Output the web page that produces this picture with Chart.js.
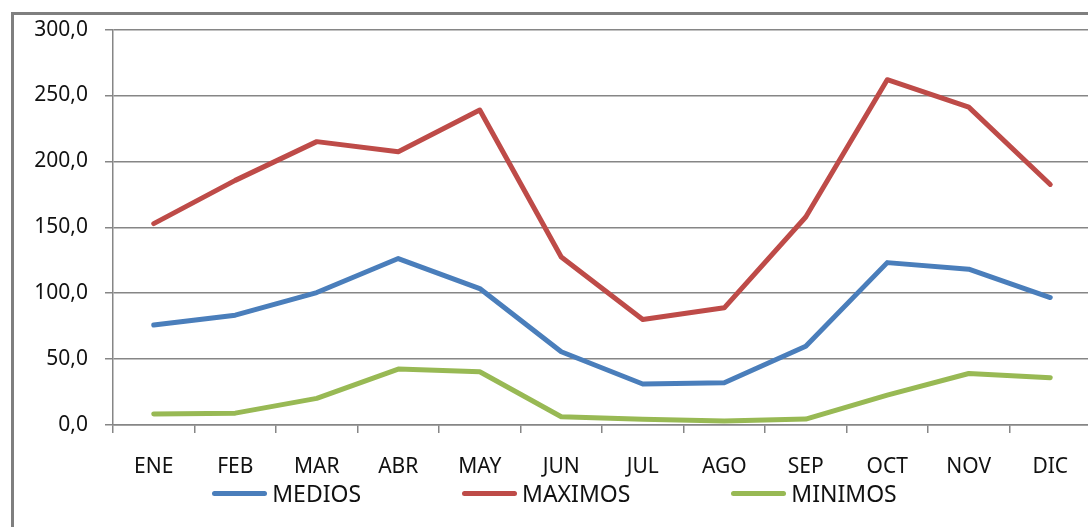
<!DOCTYPE html>
<html lang="es">
<head>
  <meta charset="UTF-8">
  <title>Medios, máximos y mínimos mensuales</title>
  <script src="https://cdn.jsdelivr.net/npm/chart.js"></script>
  <style>
    html, body { margin: 0; padding: 0; background: #fff; overflow: hidden; width: 1088px; height: 527px; }
    .frame { position: absolute; left: 11px; top: 12px; width: 1200px; height: 600px; border: 3px solid #7f7f7f; pointer-events: none; }
    .wrap { position: absolute; left: 0; top: 0; width: 1100px; height: 527px; }
    .legend { position: absolute; left: 0; top: 477px; width: 1109px; display: flex; justify-content: center; gap: 101px;
              font-family: 'Noto Sans', sans-serif; font-size: 23px; color: #111; }
    .legend .item { display: flex; align-items: center; }
    .legend .swatch { width: 55px; height: 5px; border-radius: 3px; margin-right: 5px; }
  </style>
</head>
<body>

<div class="wrap"><canvas id="chart"></canvas></div>
<div class="frame"></div>
<div class="legend" id="legend"></div>

<script>
  const months = ['ENE','FEB','MAR','ABR','MAY','JUN','JUL','AGO','SEP','OCT','NOV','DIC'];
  const medios  = [75.8, 83.3, 100.5, 126.3, 103.5, 55.6, 31.1, 32.1, 59.8, 123.2, 118.2, 96.7];
  const maximos = [152.8, 185.6, 215.0, 207.3, 239.0, 127.5, 80.0, 88.9, 157.8, 262.0, 241.2, 182.5];
  const minimos = [8.3, 9.0, 20.2, 42.4, 40.4, 6.3, 4.3, 3.0, 4.5, 22.7, 39.1, 35.9];
  const yTickLabels = ['0,0','50,0','100,0','150,0','200,0','250,0','300,0'];

  const series = [
    { label: 'MEDIOS',  data: medios,  color: '#4a7ebb' },
    { label: 'MAXIMOS', data: maximos, color: '#be4b48' },
    { label: 'MINIMOS', data: minimos, color: '#98b954' }
  ];

  const font = { family: "'Noto Sans', sans-serif", size: 21 };

  new Chart(document.getElementById('chart'), {
    type: 'line',
    data: {
      labels: months,
      datasets: series.map(s => ({
        label: s.label,
        data: s.data,
        borderColor: s.color,
        backgroundColor: s.color,
        borderWidth: 5,
        borderJoinStyle: 'round',
        borderCapStyle: 'round',
        pointRadius: 0,
        tension: 0
      }))
    },
    options: {
      responsive: true,
      maintainAspectRatio: false,
      animation: false,
      layout: { padding: { top: 29, right: 9, left: 0, bottom: 0 } },
      plugins: { legend: { display: false }, tooltip: { enabled: false } },
      scales: {
        x: {
          offset: true,
          grid: { offset: true, drawOnChartArea: false, drawTicks: true, tickLength: 8, color: '#868686', lineWidth: 1.5 },
          border: { display: true, color: '#868686', width: 1.5 },
          ticks: { color: '#111', font, padding: 21, maxRotation: 0, autoSkip: false },
          afterFit: s => { s.height = 102; }
        },
        y: {
          min: 0, max: 300,
          ticks: { stepSize: 50, color: '#111', font, padding: 17, callback: (v, i) => yTickLabels[i] },
          grid: { color: '#868686', lineWidth: 1.5, tickLength: 8 },
          border: { display: true, color: '#868686', width: 1.5 },
          afterFit: s => { s.width = 113; }
        }
      }
    }
  });

  // legend built from the series
  document.getElementById('legend').innerHTML = series.map(s =>
    `<div class="item"><span class="swatch" style="background:${s.color}"></span>${s.label}</div>`
  ).join('');
</script>

</body>
</html>
